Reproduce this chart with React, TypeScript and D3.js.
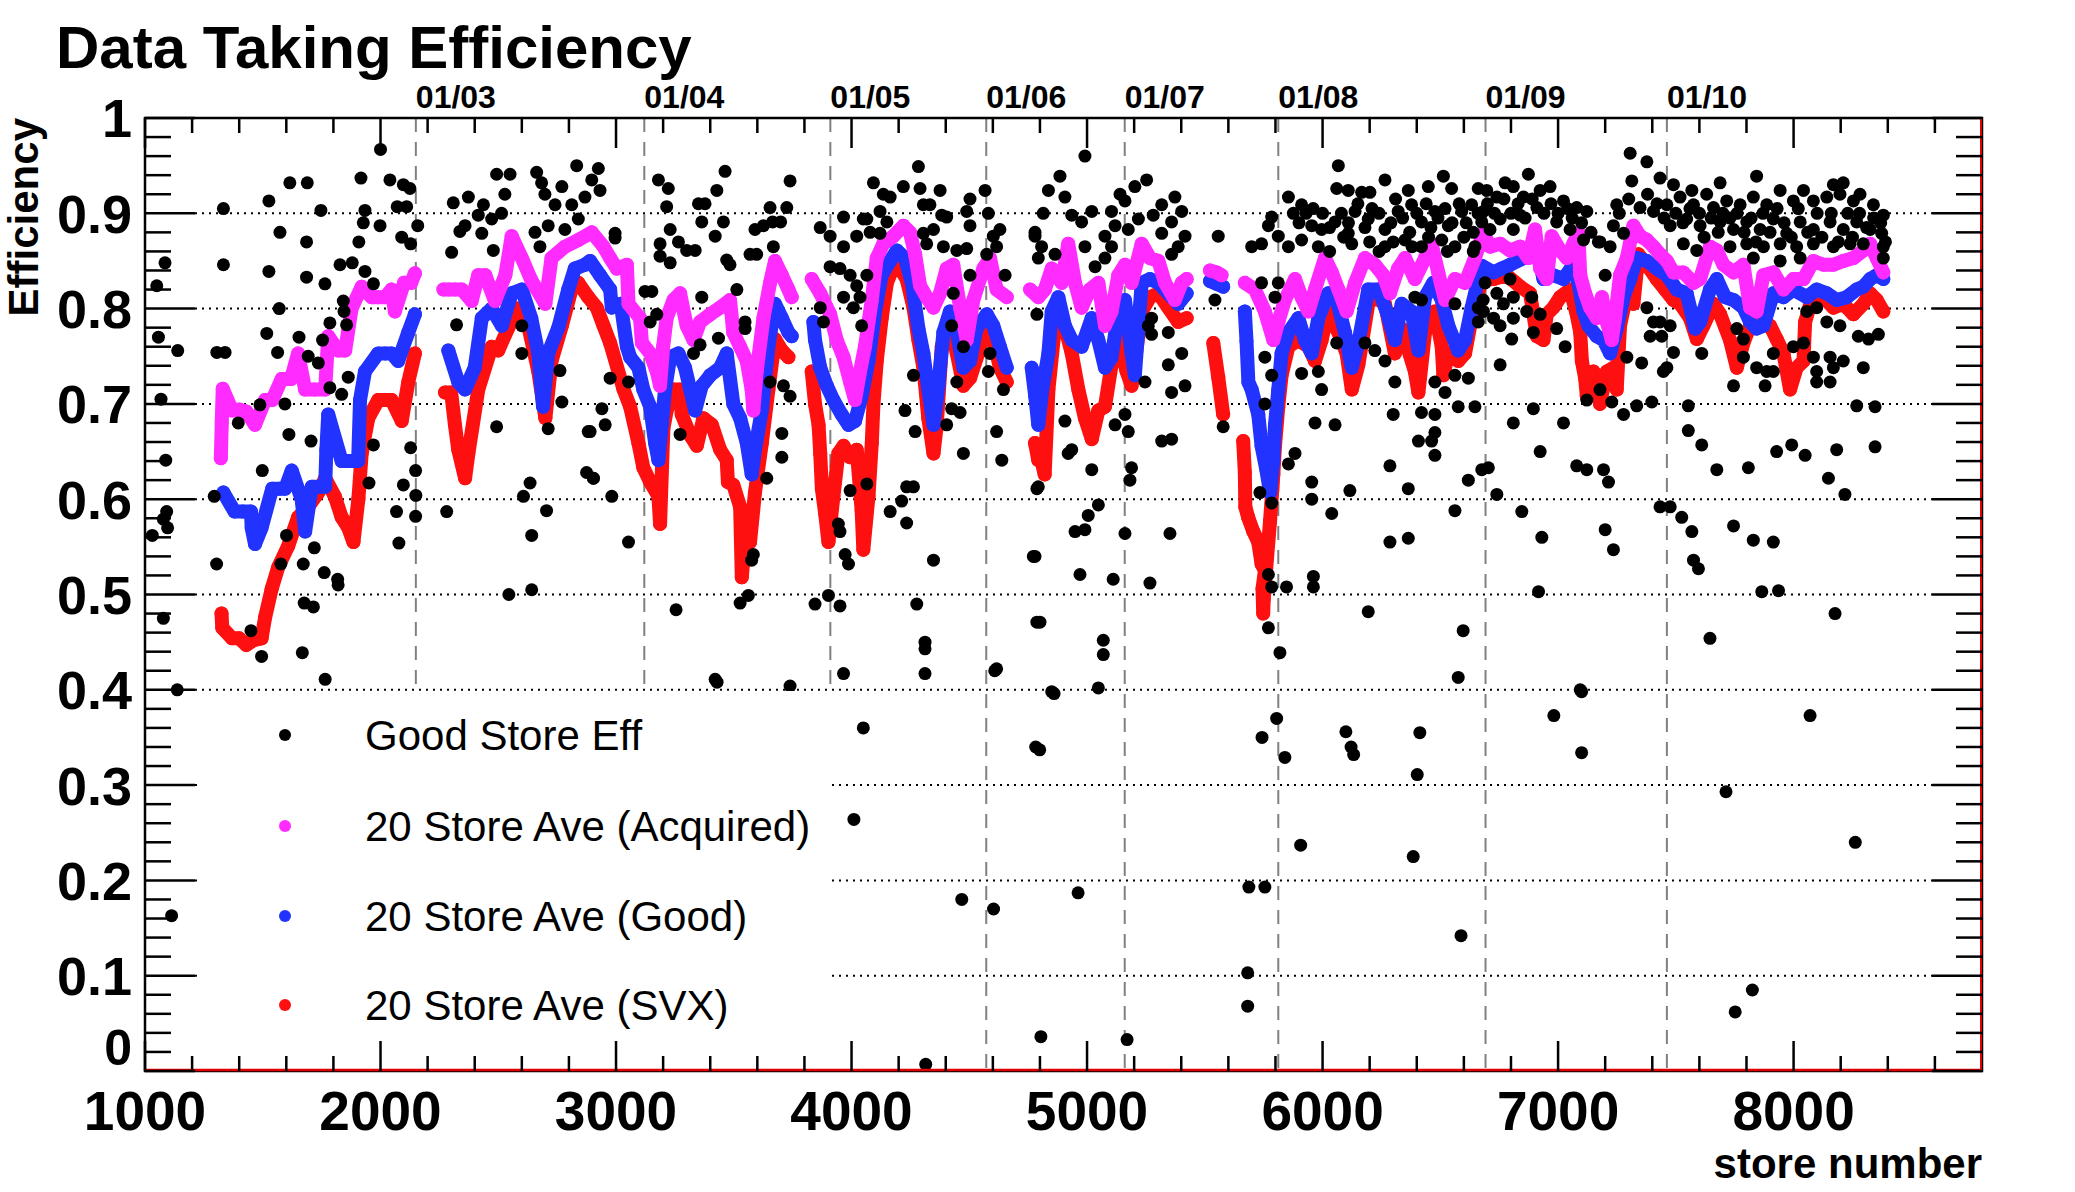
import * as d3 from "d3";

// store number, efficiency
const goodStoreEff: [number, number][] = [
  [2000, .967], [1615, .932], [1689, .932], [1917, .937], [2040, .935], [2097, .93], [2125, .926],
  [1333, .905], [1526, .913], [1747, .903], [1934, .903], [2071, .907], [2111, .907],
  [1927, .89], [1998, .887], [2158, .887], [1573, .88], [1686, .87], [1908, .87], [2090, .875], [2128, .868],
  [1085, .848], [1333, .846], [1526, .839], [1686, .833], [1764, .826], [1828, .846], [1880, .848], [1934, .839], [1970, .826],
  [1050, .824], [1570, .80], [1842, .808], [1845, .797], [1517, .774], [1057, .77], [1785, .785], [1654, .77], [1754, .767], [1856, .783],
  [1139, .756], [1305, .754], [1340, .754], [1563, .754], [1693, .75], [1736, .743], [1863, .728], [1835, .71], [1785, .717],
  [1068, .705], [1488, .699], [1594, .70], [1396, .68], [1611, .668], [1705, .661], [1970, .657], [2128, .654],
  [1088, .641], [1498, .63], [2149, .63], [1951, .617], [2097, .615], [1294, .603], [2150, .604], [2068, .587], [2149, .582],
  [1092, .587], [1078, .579], [1096, .57], [1031, .562], [1601, .562], [1719, .549], [2078, .554],
  [1304, .532], [1672, .532], [1577, .532], [1761, .523], [1818, .516], [1820, .51],
  [1676, .491], [1715, .487], [1450, .462], [1078, .475], [1495, .435], [1668, .439], [1765, .411], [1137, .40], [1113, .163],
  [2281, .587], [2493, .676], [2882, .671], [2875, .628], [2904, .622], [2635, .617], [2607, .603], [2705, .588], [2642, .562],
  [2545, .50], [2642, .505], [2770, .702], [2762, .735], [2600, .753], [2600, .782], [2712, .674], [2323, .783],
  [2302, .859], [2479, .861], [2430, .879], [2337, .881], [2309, .911], [2373, .917], [2437, .909], [2493, .941], [2550, .941],
  [2663, .943], [2833, .95], [2897, .935], [2656, .88], [2528, .92], [2514, .90], [2472, .894], [2415, .898], [2359, .887],
  [2698, .92], [2741, .909], [2770, .928], [2812, .909], [2840, .894], [2868, .917], [2712, .887], [2684, .932], [2783, .883], [2677, .865],
  [2925, .947], [2932, .924], [2996, .879], [2996, .874], [3180, .935], [3222, .926], [3215, .907], [3463, .944], [3428, .924], [3739, .934],
  [3350, .91], [3378, .91], [3364, .891], [3456, .891], [3654, .906], [3725, .906], [3665, .891], [3699, .891],
  [3230, .883], [3187, .868], [3265, .87], [3421, .876], [3590, .883], [3626, .887], [3597, .857], [3668, .865], [3187, .855],
  [3230, .848], [3300, .861], [3336, .861], [3470, .851], [3484, .846], [3569, .857],
  [3123, .818], [3152, .818], [3364, .812], [3513, .82], [3145, .786], [3173, .794], [3548, .786], [3548, .779], [3435, .769],
  [3357, .762], [3329, .753], [2975, .727], [3053, .723], [3654, .723], [3711, .719], [3739, .708], [2940, .695], [2890, .671],
  [2954, .678], [3272, .668], [3704, .669], [3704, .644], [2904, .622], [3640, .622], [2982, .603], [3053, .555], [3583, .542],
  [3576, .536], [3562, .499], [3527, .491], [3255, .484], [3421, .411], [3739, .404],
  [3867, .885], [3909, .876], [4022, .876], [3966, .896], [4050, .894], [4093, .932], [4135, .92], [4164, .917], [4220, .928],
  [4121, .902], [4150, .891], [4121, .879], [4284, .949], [4291, .926], [4376, .924], [4305, .909], [4333, .909], [4383, .898],
  [4404, .896], [4503, .915], [4567, .924], [4489, .902], [4503, .887], [4581, .90], [4630, .883], [4602, .876], [4305, .879],
  [4348, .883], [4390, .865], [4447, .861], [4489, .863], [4319, .868], [4503, .835], [4652, .835], [4574, .857], [4616, .865],
  [4779, .88], [4793, .853], [4787, .794], [3909, .844], [3951, .842], [3994, .835], [4022, .824], [3966, .812], [4008, .801],
  [4036, .812], [4043, .782], [3867, .801], [3881, .786], [4065, .835], [4079, .88], [3966, .865], [4065, .894],
  [4425, .782], [4432, .816], [4475, .76], [4588, .753], [4581, .734], [4645, .715], [4263, .73], [4447, .723], [4227, .693],
  [4425, .695], [4461, .691], [4404, .678], [4270, .671], [4616, .671], [4475, .648], [4638, .641], [4234, .613], [4263, .613],
  [4213, .598], [4164, .587], [4234, .575], [4065, .616], [3994, .609], [3944, .574], [3951, .566], [3973, .542], [3987, .532],
  [4348, .536], [4772, .54], [3902, .499], [3845, .49], [3951, .488], [4277, .49], [4787, .471], [4312, .45], [4312, .443],
  [4312, .417], [3966, .417], [4616, .422], [4787, .611], [3429, .408],
  [4991, .96], [4885, .939], [4836, .924], [4814, .90], [4906, .917], [4935, .898], [4977, .891], [5020, .902], [5140, .92],
  [5203, .928], [5253, .935], [5161, .913], [5119, .887], [5104, .902], [5076, .876], [5175, .883], [5218, .894], [5281, .898],
  [5317, .909], [5373, .917], [5402, .902], [5359, .891], [5416, .876], [5387, .865], [5317, .879], [4779, .876], [4807, .865],
  [4864, .857], [4991, .865], [5034, .844], [5076, .853], [5104, .865], [5359, .857], [5557, .876], [5543, .809], [5699, .865],
  [5741, .868], [5770, .887], [5784, .896], [5855, .917], [5911, .909], [5876, .90], [5812, .876], [5855, .865], [5911, .872],
  [5954, .887], [5996, .883], [6067, .95], [6060, .926], [6109, .924], [6166, .922], [6201, .922], [6265, .935], [6364, .924],
  [6449, .928], [6513, .939], [6548, .926], [6661, .926], [6053, .891], [6138, .902], [6194, .894], [6265, .883], [6321, .902],
  [6378, .909], [6420, .891], [6477, .902], [6534, .887], [6591, .902], [6633, .909], [6676, .891], [6124, .868], [6265, .865],
  [6350, .872], [6420, .865], [6506, .872], [6562, .865], [6647, .865], [6109, .879], [5982, .865], [5741, .827], [5812, .827],
  [5798, .812], [6392, .812], [6420, .809], [6562, .805], [6661, .801],
  [5900, .89], [5930, .90], [5960, .905], [6000, .90], [6030, .885], [6080, .90], [6110, .89], [6150, .91], [6180, .885],
  [6210, .905], [6240, .90], [6290, .89], [6310, .915], [6340, .895], [6370, .88], [6400, .90], [6440, .91], [6460, .885],
  [6490, .895], [6520, .905], [6550, .89], [6580, .91], [6610, .89], [6640, .88], [6660, .90], [6030, .86], [6090, .875],
  [6200, .87], [6240, .86], [6300, .87], [6380, .865], [6450, .875], [6530, .86], [6600, .875], [6640, .86],
  [5274, .79], [5274, .773], [5345, .775], [5260, .782], [5345, .741], [5402, .753], [5416, .719], [5246, .723], [5359, .712],
  [5755, .749], [5784, .73], [5911, .732], [5982, .734], [5996, .715], [6060, .764], [6180, .764], [6222, .756], [6265, .745],
  [6307, .723], [6477, .723], [6520, .712], [6562, .73], [6619, .727], [6682, .809], [6661, .786],
  [5161, .689], [5175, .671], [5119, .678], [4906, .682], [4920, .648], [4935, .652], [5317, .661], [5359, .663], [5578, .676],
  [5755, .70], [5883, .648], [5855, .637], [5968, .68], [6053, .678], [6300, .689], [6420, .691], [6477, .689], [6576, .697],
  [6647, .697], [6407, .661], [6463, .661], [6477, .67], [6477, .646], [6286, .635], [6619, .62], [6676, .631], [5020, .631],
  [5189, .633], [5182, .62], [4793, .613], [5954, .618], [6116, .609], [6364, .611], [5954, .60], [5784, .596], [5734, .607],
  [5048, .594], [5005, .583], [4949, .566], [4991, .568], [5161, .564], [5352, .564], [6039, .585], [6562, .588], [6286, .555],
  [6364, .559], [4779, .54], [4970, .521], [5111, .516], [5267, .512], [5770, .521], [5784, .508], [5847, .508], [5961, .519],
  [5961, .508], [6194, .482], [4800, .471], [5069, .452], [5069, .437], [5770, .465], [5819, .439], [6597, .462], [6576, .413],
  [4850, .398], [5048, .402],
  [7306, .963], [7377, .954], [7313, .934], [7433, .937], [7490, .93], [7568, .924], [7688, .932], [7843, .939], [8169, .93],
  [8211, .932], [6874, .941], [6775, .932], [6697, .924], [6740, .917], [6810, .928], [6853, .917], [6924, .924], [6966, .928],
  [7023, .913], [7079, .906], [7122, .902], [6683, .902], [6754, .894], [6839, .898], [6910, .906], [6994, .891], [7051, .883],
  [7108, .872], [7249, .909], [7235, .887], [7278, .879], [7221, .865], [7178, .87], [7348, .906], [7405, .902], [7462, .909],
  [7518, .917], [7575, .909], [7631, .92], [7660, .906], [7716, .913], [7773, .909], [7829, .917], [7886, .909], [7943, .924],
  [7999, .913], [8042, .924], [8084, .913], [8141, .917], [8197, .92], [8254, .913], [8282, .92], [8339, .909], [8381, .898],
  [7476, .887], [7546, .894], [7603, .887], [7688, .891], [7745, .883], [7801, .891], [7858, .883], [7914, .894], [7971, .879],
  [8028, .891], [8084, .883], [8155, .891], [8211, .883], [8268, .891], [8325, .883], [8374, .879], [7532, .868], [7589, .861],
  [7730, .865], [7801, .868], [7872, .865], [7943, .868], [8013, .865], [8084, .868], [8169, .865], [8240, .868], [8296, .868],
  [8381, .865], [7829, .853], [7943, .85], [8028, .853], [8381, .853], [6711, .883], [6810, .883],
  [6700, .91], [6730, .90], [6770, .915], [6800, .90], [6830, .91], [6860, .895], [6890, .915], [6940, .90], [6970, .91],
  [7000, .90], [7040, .905], [7060, .895], [7100, .89], [7140, .88], [7260, .90], [7300, .915], [7380, .92], [7420, .91],
  [7450, .895], [7500, .90], [7530, .89], [7560, .905], [7600, .90], [7620, .875], [7650, .895], [7680, .88], [7700, .90],
  [7730, .895], [7760, .90], [7790, .88], [7820, .895], [7840, .87], [7870, .90], [7900, .88], [7930, .905], [7960, .89],
  [7990, .875], [8020, .905], [8060, .88], [8100, .90], [8120, .875], [8160, .90], [8190, .87], [8230, .90], [8250, .875],
  [8280, .90], [8310, .885], [8340, .895], [8370, .89], [8390, .87],
  [6690, .827], [6740, .816], [6796, .831], [6810, .812], [6768, .805], [6726, .79], [6683, .797], [6754, .782], [6810, .79],
  [6867, .797], [6888, .812], [6924, .794], [6895, .775], [6994, .779], [7030, .76], [6803, .768], [6754, .741], [7171, .87],
  [7200, .835], [7377, .801], [7405, .786], [7433, .786], [7391, .771], [7440, .771], [7476, .782], [7292, .749], [7355, .743],
  [7490, .754], [7462, .738], [7447, .734], [7610, .753], [7759, .779], [7787, .768], [7787, .749], [7843, .738], [7886, .734],
  [7914, .753], [7914, .734], [7745, .719], [7879, .719], [7999, .76], [8042, .764], [8084, .749], [8098, .734], [8098, .723],
  [8155, .749], [8169, .738], [8155, .723], [8211, .745], [8296, .738], [8275, .771], [8318, .768], [8360, .773], [8141, .786],
  [8197, .782], [8056, .797], [8098, .801], [7178, .715], [7228, .702], [7122, .704], [7278, .689], [7334, .698], [7398, .702],
  [7553, .698], [7553, .672], [7610, .657], [7674, .631], [7808, .633], [7928, .65], [7992, .657], [8049, .646], [8183, .652],
  [8268, .698], [8346, .697], [8346, .655], [8148, .622], [8218, .605], [6895, .695], [6810, .68], [7023, .68], [6924, .65],
  [6704, .633], [7079, .635], [7122, .631], [7193, .631], [7214, .618], [6740, .605], [6846, .587], [6931, .56], [7200, .568],
  [7235, .547], [7433, .592], [7476, .592], [7525, .581], [7568, .566], [7575, .536], [7596, .527], [7745, .572], [7829, .557],
  [7914, .555], [6917, .503], [7865, .503], [7936, .504], [8176, .48], [7645, .454], [7094, .40],
  [4050, .36], [4010, .264], [4315, .007], [4468, .18], [4603, .17], [4608, .42], [4782, .34], [4799, .337], [4804, .036],
  [4860, .396], [4962, .187], [5170, .033], [5682, .103], [5682, .068], [5687, .193], [5755, .193], [5743, .35], [5805, .37],
  [5840, .329], [5907, .237], [6099, .356], [6121, .34], [6132, .332], [6402, .311], [6413, .355], [6385, .225], [6588, .142],
  [6982, .373], [7100, .334], [7100, .398], [7713, .293], [7752, .062], [7825, .085], [8070, .373], [8262, .24],
];

const aveAcquired: [number, number][] = [
  [1322, .643], [1326, .681], [1330, .716], [1370, .693], [1400, .694], [1430, .692], [1467, .678], [1510, .704], [1540, .704],
  [1580, .726], [1620, .726], [1650, .753], [1680, .715], [1720, .715], [1765, .715], [1778, .771], [1820, .756], [1850, .756],
  [1877, .80], [1920, .823], [1962, .812], [1990, .812], [2020, .812], [2047, .82], [2061, .797], [2100, .827], [2130, .827], [2146, .837],
  [2267, .82], [2290, .82], [2316, .82], [2345, .82], [2387, .808], [2415, .835], [2445, .835], [2486, .808], [2530, .835],
  [2557, .876], [2600, .853], [2640, .83], [2700, .805], [2726, .853], [2783, .865], [2840, .872], [2897, .88],
  [2947, .865], [2975, .853], [3003, .842], [3046, .846], [3053, .805], [3102, .79], [3110, .764], [3145, .753], [3173, .734],
  [3187, .719], [3200, .76], [3215, .79], [3244, .809], [3272, .816], [3300, .782], [3329, .767], [3357, .786], [3400, .794],
  [3442, .801], [3484, .809], [3498, .775], [3527, .76], [3555, .745], [3576, .715], [3583, .693], [3597, .734], [3626, .79],
  [3654, .827], [3675, .85], [3704, .835], [3732, .82], [3746, .812],
  [3831, .831], [3867, .816], [3909, .794], [3937, .767], [3966, .749], [3994, .723], [4015, .704], [4036, .734], [4057, .76],
  [4086, .809], [4107, .853], [4135, .868], [4178, .876], [4220, .887], [4248, .88], [4270, .857], [4291, .824], [4319, .812],
  [4348, .801], [4376, .816], [4404, .842], [4432, .846], [4461, .801], [4489, .767], [4517, .809], [4560, .842], [4588, .853],
  [4616, .82], [4659, .812],
  [4758, .82], [4793, .812], [4821, .82], [4850, .842], [4892, .827], [4920, .868], [4949, .827], [4977, .801], [5012, .82],
  [5048, .827], [5076, .782], [5104, .797], [5133, .835], [5161, .846], [5189, .827], [5232, .868], [5267, .853], [5303, .85],
  [5331, .827], [5373, .809], [5402, .827], [5423, .831], [5522, .84], [5550, .838], [5571, .835],
  [5670, .827], [5713, .82], [5755, .797], [5791, .767], [5812, .786], [5840, .809], [5883, .831], [5911, .812], [5940, .797],
  [5968, .82], [6010, .853], [6039, .838], [6067, .82], [6102, .797], [6138, .827], [6180, .853], [6222, .846], [6258, .835],
  [6286, .816], [6321, .842], [6350, .853], [6392, .831], [6435, .853], [6463, .868], [6491, .838], [6520, .809], [6562, .831],
  [6605, .827], [6647, .853], [6682, .88], [6711, .865], [6754, .868], [6796, .861], [6839, .865], [6874, .853], [6902, .883],
  [6924, .842], [6952, .831], [6973, .876], [7009, .861], [7037, .853], [7065, .868], [7086, .88], [7094, .835], [7115, .816],
  [7136, .801], [7164, .79], [7186, .812], [7207, .786], [7228, .767], [7242, .79], [7263, .835], [7292, .853], [7320, .887],
  [7348, .876], [7377, .872], [7405, .865], [7433, .857], [7462, .85], [7490, .838], [7532, .838], [7575, .827], [7603, .831],
  [7645, .865], [7674, .861], [7702, .846], [7745, .838], [7787, .846], [7815, .801], [7843, .797], [7872, .835], [7914, .838],
  [7957, .82], [7999, .831], [8042, .831], [8084, .85], [8127, .846], [8169, .846], [8211, .85], [8254, .853], [8296, .861],
  [8325, .868], [8353, .853], [8381, .838],
];

const aveGood: [number, number][] = [
  [1333, .607], [1380, .587], [1415, .587], [1450, .587], [1453, .57], [1467, .553], [1495, .57], [1540, .611], [1570, .611],
  [1595, .611], [1623, .63], [1665, .60], [1680, .566], [1708, .613], [1740, .613], [1765, .613], [1770, .652], [1778, .689],
  [1835, .64], [1870, .64], [1905, .64], [1913, .704], [1934, .734], [1990, .753], [2020, .753], [2047, .753], [2075, .745],
  [2118, .775], [2146, .794],
  [2288, .756], [2330, .723], [2359, .715], [2400, .738], [2430, .79], [2472, .80], [2515, .782], [2557, .816], [2600, .82],
  [2640, .79], [2670, .753], [2690, .697], [2712, .753], [2755, .78], [2797, .82], [2825, .842], [2868, .846],
  [2890, .85], [2932, .835], [2975, .82], [2982, .801], [3020, .805], [3046, .76], [3060, .749], [3095, .738], [3116, .715],
  [3145, .697], [3166, .659], [3180, .641], [3194, .678], [3208, .715], [3230, .749], [3265, .753], [3293, .738], [3315, .715],
  [3336, .693], [3364, .719], [3400, .73], [3442, .738], [3470, .753], [3498, .70], [3527, .685], [3555, .659], [3576, .626],
  [3590, .652], [3619, .693], [3647, .76], [3675, .805], [3704, .79], [3732, .775], [3746, .771],
  [3838, .786], [3845, .767], [3867, .738], [3895, .719], [3923, .704], [3958, .689], [3987, .678], [4015, .682], [4043, .708],
  [4072, .745], [4100, .797], [4128, .835], [4164, .85], [4192, .861], [4227, .853], [4256, .827], [4284, .779], [4305, .753],
  [4326, .715], [4348, .678], [4369, .719], [4390, .775], [4418, .797], [4447, .775], [4475, .738], [4503, .745], [4531, .779],
  [4574, .794], [4602, .782], [4630, .76], [4659, .738],
  [4765, .738], [4780, .708], [4793, .678], [4810, .715], [4836, .753], [4850, .797], [4878, .812], [4906, .782], [4935, .767],
  [4977, .76], [5020, .79], [5048, .767], [5076, .738], [5104, .749], [5133, .797], [5161, .809], [5189, .753], [5203, .73],
  [5232, .827], [5267, .831], [5303, .827], [5345, .816], [5387, .805], [5423, .816], [5522, .829], [5550, .826], [5578, .823],
  [5670, .797], [5677, .766], [5685, .723], [5699, .715], [5727, .689], [5741, .656], [5762, .63], [5777, .607], [5791, .641],
  [5798, .678], [5812, .715], [5826, .753], [5855, .775], [5897, .79], [5925, .767], [5954, .753], [5982, .79], [6024, .816],
  [6060, .809], [6095, .775], [6124, .738], [6152, .764], [6194, .82], [6237, .82], [6272, .797], [6307, .767], [6336, .805],
  [6378, .797], [6407, .756], [6435, .812], [6470, .827], [6506, .809], [6534, .782], [6576, .756], [6605, .767], [6633, .801],
  [6675, .845], [6726, .838], [6760, .842], [6796, .846], [6853, .853], [6910, .865], [6938, .831], [6980, .835], [7023, .831],
  [7065, .846], [7086, .827], [7108, .797], [7129, .782], [7164, .771], [7193, .767], [7221, .753], [7249, .779], [7278, .812],
  [7306, .831], [7334, .853], [7377, .85], [7419, .842], [7462, .835], [7504, .82], [7546, .816], [7582, .779], [7603, .786],
  [7645, .82], [7674, .831], [7709, .812], [7745, .809], [7787, .801], [7815, .786], [7843, .779], [7872, .782], [7914, .816],
  [7957, .812], [7999, .82], [8056, .812], [8098, .82], [8141, .816], [8183, .809], [8226, .812], [8268, .82], [8296, .823],
  [8325, .831], [8353, .835], [8381, .831],
];

const aveSvx: [number, number][] = [
  [1325, .48], [1328, .465], [1370, .454], [1400, .454], [1430, .447], [1460, .452], [1495, .454], [1510, .476], [1538, .506],
  [1566, .529], [1608, .551], [1650, .581], [1693, .592], [1736, .607], [1765, .622], [1806, .603], [1835, .581], [1863, .57],
  [1885, .555], [1906, .60], [1920, .648], [1948, .685], [1990, .704], [2020, .704], [2047, .704], [2090, .682], [2118, .723], [2146, .753],
  [2274, .712], [2300, .712], [2316, .678], [2330, .652], [2359, .622], [2373, .648], [2415, .715], [2472, .76], [2500, .756],
  [2543, .78], [2580, .80], [2620, .79], [2670, .734], [2700, .685], [2726, .745], [2770, .782], [2811, .82], [2840, .827], [2882, .812],
  [2918, .801], [2947, .782], [2975, .764], [3032, .715], [3060, .697], [3095, .659], [3116, .633], [3145, .618], [3180, .603],
  [3187, .574], [3201, .674], [3215, .693], [3244, .715], [3272, .715], [3279, .689], [3315, .667], [3343, .656], [3371, .685],
  [3407, .678], [3442, .652], [3470, .641], [3475, .618], [3498, .615], [3527, .592], [3534, .518], [3555, .577], [3569, .555],
  [3590, .607], [3619, .659], [3647, .715], [3675, .768], [3704, .756], [3732, .749],
  [3831, .734], [3845, .70], [3860, .678], [3867, .648], [3874, .611], [3888, .585], [3902, .555], [3923, .603], [3944, .648],
  [3966, .656], [3994, .644], [4022, .652], [4043, .588], [4050, .547], [4072, .603], [4086, .659], [4093, .70], [4107, .745],
  [4128, .79], [4150, .827], [4178, .844], [4206, .842], [4234, .831], [4263, .801], [4284, .767], [4305, .738], [4326, .685],
  [4348, .648], [4362, .678], [4383, .76], [4411, .79], [4447, .753], [4475, .719], [4503, .727], [4538, .753], [4574, .782],
  [4602, .768], [4630, .738], [4659, .723],
  [4779, .659], [4793, .641], [4807, .64], [4820, .626], [4836, .715], [4864, .782], [4892, .794], [4935, .753], [4963, .715],
  [4991, .685], [5020, .663], [5048, .693], [5076, .697], [5104, .741], [5133, .767], [5168, .734], [5189, .719], [5232, .797],
  [5267, .812], [5303, .816], [5345, .801], [5387, .786], [5423, .79], [5536, .764], [5557, .728], [5578, .689],
  [5663, .661], [5670, .628], [5672, .592], [5684, .581], [5706, .566], [5727, .555], [5741, .532], [5755, .525], [5745, .506],
  [5748, .48], [5750, .495], [5777, .577], [5791, .626], [5798, .656], [5812, .697], [5826, .73], [5855, .76], [5897, .767],
  [5940, .76], [5968, .745], [5996, .767], [6024, .797], [6067, .775], [6102, .753], [6124, .715], [6152, .741], [6194, .805],
  [6222, .812], [6265, .805], [6307, .753], [6336, .779], [6392, .734], [6407, .712], [6435, .775], [6477, .797], [6506, .76],
  [6513, .73], [6534, .753], [6576, .745], [6605, .753], [6633, .79], [6675, .83], [6726, .831], [6782, .835], [6839, .823],
  [6881, .816], [6910, .771], [6938, .767], [6952, .794], [6980, .801], [7009, .812], [7051, .82], [7079, .794], [7094, .775],
  [7101, .745], [7115, .727], [7122, .708], [7150, .734], [7178, .70], [7207, .734], [7235, .738], [7249, .715], [7263, .782],
  [7292, .816], [7320, .805], [7341, .857], [7377, .846], [7419, .831], [7454, .82], [7490, .809], [7518, .805], [7560, .79],
  [7589, .768], [7617, .782], [7660, .805], [7688, .794], [7730, .767], [7759, .738], [7787, .764], [7815, .782], [7858, .79],
  [7900, .782], [7928, .768], [7957, .753], [7985, .715], [8013, .738], [8042, .745], [8049, .786], [8084, .816], [8127, .812],
  [8169, .801], [8211, .805], [8254, .794], [8296, .805], [8325, .816], [8353, .809], [8381, .797],
];

const monthStores = [2150, 3120, 3910, 4572, 5160, 5812, 6692, 7462];
const monthLabels = ["01/03", "01/04", "01/05", "01/06", "01/07", "01/08", "01/09", "01/10"];
const legendLabels = ["Good Store Eff", "20 Store Ave (Acquired)", "20 Store Ave (Good)", "20 Store Ave (SVX)"];
const legendColors = ["#000000", "#ff2bff", "#2233ff", "#ff1010"];

const W = 2075;
const H = 1192;
const left = 145, right = 1982, top = 118, bottom = 1071;
const font = "'Liberation Sans', Arial, Helvetica, sans-serif";

// split a running average where stores are missing, so the band is not bridged over gaps
function runs(data: [number, number][]) {
  const out: [number, number][][] = [];
  let cur: [number, number][] = [];
  data.forEach((p, i) => {
    if (i > 0 && Math.abs(p[0] - data[i - 1][0]) > 80) {
      out.push(cur);
      cur = [];
    }
    cur.push(p);
  });
  out.push(cur);
  return out;
}

export default function App() {
  const x = d3.scaleLinear().domain([1000, 8800]).range([left, right]);
  const y = d3.scaleLinear().domain([0, 1]).range([bottom, top]);
  const line = d3.line<[number, number]>().x((d) => x(d[0])).y((d) => y(d[1]));

  const xMajor = d3.range(1000, 8001, 1000);
  const xMinor = d3.range(1000, 8800, 200).filter((v) => v % 1000 !== 0);
  const yMajor = d3.range(0, 11).map((i) => i / 10);
  const yMinor = d3.range(0, 50).map((i) => i / 50).filter((_, i) => i % 5 !== 0);

  const legend = { x0: 200, x1: 832, y0: 691, rows: [735, 826, 916, 1005] };

  const band = (data: [number, number][], color: string) => (
    <g>
      {runs(data).map((r, i) => (
        <path key={i} d={line(r) ?? ""} fill="none" stroke={color} strokeWidth={14}
          strokeLinecap="round" strokeLinejoin="round" />
      ))}
      {data.map(([s, v], i) => <circle key={i} cx={x(s)} cy={y(v)} r={7} fill={color} />)}
    </g>
  );

  return (
    <svg width={W} height={H} style={{ position: "absolute", left: 0, top: 0, background: "#fff" }}
      fontFamily={font}>
      <rect width={W} height={H} fill="#fff" />

      {/* horizontal dotted grid */}
      {yMajor.slice(1, 10).map((v) => (
        <line key={v} x1={left + 50} x2={right - 50} y1={y(v)} y2={y(v)}
          stroke="#000" strokeWidth={2} strokeDasharray="2,5" />
      ))}
      {/* month boundaries */}
      {monthStores.map((s) => (
        <line key={s} x1={x(s)} x2={x(s)} y1={top} y2={bottom}
          stroke="#808080" strokeWidth={2} strokeDasharray="14,10" />
      ))}

      {band(aveSvx, legendColors[3])}
      {band(aveGood, legendColors[2])}
      {band(aveAcquired, legendColors[1])}
      {goodStoreEff.map(([s, v], i) => <circle key={i} cx={x(s)} cy={y(v)} r={6.5} fill="#000" />)}

      {/* legend */}
      <rect x={legend.x0} y={legend.y0} width={legend.x1 - legend.x0} height={bottom - 2 - legend.y0} fill="#fff" />
      {legendLabels.map((t, i) => (
        <g key={t}>
          <circle cx={285} cy={legend.rows[i]} r={6} fill={legendColors[i]} />
          <text x={365} y={legend.rows[i]} dy="0.35em" fontSize={42} fill="#000">{t}</text>
        </g>
      ))}

      {/* frame and ticks */}
      <rect x={left} y={top} width={right - left} height={bottom - top} fill="none" stroke="#000" strokeWidth={2.5} />
      <line x1={left} x2={right} y1={bottom - 1} y2={bottom - 1} stroke="#e00000" strokeWidth={2.5} />
      <line x1={right - 1} x2={right - 1} y1={top} y2={bottom} stroke="#e00000" strokeWidth={2} />
      {xMajor.map((v) => (
        <g key={v}>
          <line x1={x(v)} x2={x(v)} y1={bottom} y2={bottom - 30} stroke="#000" strokeWidth={2.5} />
          <line x1={x(v)} x2={x(v)} y1={top} y2={top + 30} stroke="#000" strokeWidth={2.5} />
          <text x={x(v)} y={1130} textAnchor="middle" fontSize={55} fontWeight="bold">{v}</text>
        </g>
      ))}
      {xMinor.map((v) => (
        <g key={v}>
          <line x1={x(v)} x2={x(v)} y1={bottom} y2={bottom - 15} stroke="#000" strokeWidth={2.5} />
          <line x1={x(v)} x2={x(v)} y1={top} y2={top + 15} stroke="#000" strokeWidth={2.5} />
        </g>
      ))}
      {yMajor.map((v) => (
        <g key={v}>
          <line x1={left} x2={left + 50} y1={y(v)} y2={y(v)} stroke="#000" strokeWidth={2.5} />
          <line x1={right} x2={right - 50} y1={y(v)} y2={y(v)} stroke="#000" strokeWidth={2.5} />
          <text x={132} y={y(v)} dy={v === 0 ? "-0.12em" : "0.36em"} textAnchor="end"
            fontSize={v === 0 ? 50 : 54} fontWeight="bold">
            {v === 0 || v === 1 ? String(v) : v.toFixed(1)}
          </text>
        </g>
      ))}
      {yMinor.map((v) => (
        <g key={v}>
          <line x1={left} x2={left + 26} y1={y(v)} y2={y(v)} stroke="#000" strokeWidth={2.5} />
          <line x1={right} x2={right - 26} y1={y(v)} y2={y(v)} stroke="#000" strokeWidth={2.5} />
        </g>
      ))}

      {monthStores.map((s, i) => (
        <text key={s} x={x(s)} y={108} fontSize={32} fontWeight="bold">{monthLabels[i]}</text>
      ))}

      <text x={56} y={68} fontSize={60} fontWeight="bold">Data Taking Efficiency</text>
      <text x={right} y={1178} textAnchor="end" fontSize={42} fontWeight="bold">store number</text>
      <text transform={`translate(38,${top}) rotate(-90)`} textAnchor="end" fontSize={42} fontWeight="bold">Efficiency</text>
    </svg>
  );
}
